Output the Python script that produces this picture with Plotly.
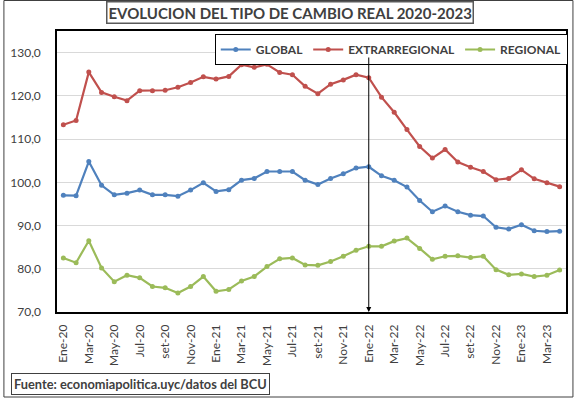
import plotly.graph_objects as go

months = ["Ene-20","Feb-20","Mar-20","Abr-20","May-20","Jun-20","Jul-20","Ago-20","set-20","Oct-20","Nov-20","Dic-20",
          "Ene-21","Feb-21","Mar-21","Abr-21","May-21","Jun-21","Jul-21","Ago-21","set-21","Oct-21","Nov-21","Dic-21",
          "Ene-22","Feb-22","Mar-22","Abr-22","May-22","Jun-22","Jul-22","Ago-22","set-22","Oct-22","Nov-22","Dic-22",
          "Ene-23","Feb-23","Mar-23","Abr-23"]

global_idx = [97.0, 96.9, 104.8, 99.3, 97.1, 97.5, 98.2, 97.1, 97.1, 96.8, 98.2, 99.9,
              97.9, 98.3, 100.5, 100.9, 102.5, 102.5, 102.5, 100.5, 99.5, 100.9, 102.0, 103.3,
              103.6, 101.5, 100.5, 98.9, 95.8, 93.2, 94.5, 93.2, 92.4, 92.2, 89.6, 89.2,
              90.2, 88.8, 88.6, 88.7]

extrarregional = [113.3, 114.3, 125.5, 120.8, 119.8, 118.9, 121.2, 121.2, 121.3, 122.0, 123.1, 124.4,
                  123.9, 124.5, 127.2, 126.6, 127.3, 125.4, 124.9, 122.2, 120.5, 122.7, 123.7, 124.9,
                  124.2, 119.7, 116.2, 112.2, 108.3, 105.6, 107.6, 104.7, 103.5, 102.5, 100.6, 100.9,
                  102.9, 100.8, 99.9, 99.0]

regional = [82.5, 81.4, 86.5, 80.2, 77.0, 78.5, 77.9, 75.9, 75.6, 74.4, 75.9, 78.2,
            74.8, 75.2, 77.2, 78.2, 80.5, 82.3, 82.5, 80.9, 80.8, 81.7, 82.9, 84.3,
            85.2, 85.2, 86.4, 87.1, 84.7, 82.2, 82.9, 83.0, 82.6, 82.9, 79.8, 78.6,
            78.8, 78.2, 78.5, 79.7]

series_names = ["GLOBAL", "EXTRARREGIONAL", "REGIONAL"]
series_colors = ["#4F81BD", "#C0504D", "#9BBB59"]
y_ticks = [70, 80, 90, 100, 110, 120, 130]
y_ticktext = ["70,0", "80,0", "90,0", "100,0", "110,0", "120,0", "130,0"]
title_text = "EVOLUCION DEL TIPO DE CAMBIO REAL 2020-2023"
source_text = "Fuente: economiapolitica.uyc/datos del BCU"
marker_month = "Ene-22"

W, H = 578, 398
L, R, T, B = 55, 10, 31, 86
pw, ph = W - L - R, H - T - B

def px2paper_x(px):
    return (px - L) / pw

def px2paper_y(py):
    return (H - B - py) / ph

fig = go.Figure()
for name, vals, col in zip(series_names, [global_idx, extrarregional, regional], series_colors):
    fig.add_trace(go.Scatter(
        x=months, y=vals, name=name, mode="lines+markers",
        line=dict(color=col, width=2.2),
        marker=dict(color=col, size=5),
    ))

font_main = "Lato"
fig.update_layout(
    width=W, height=H,
    margin=dict(l=L, r=R, t=T, b=B),
    paper_bgcolor="white", plot_bgcolor="white",
    showlegend=True,
    legend=dict(
        orientation="h", x=px2paper_x(214), y=px2paper_y(34),
        xanchor="left", yanchor="top",
        bordercolor="#000000", borderwidth=1, bgcolor="white",
        font=dict(family=font_main, size=12, color="#404040", weight="bold"),
        itemwidth=30, tracegroupgap=0,
    ),
    xaxis=dict(
        type="category", categoryorder="array", categoryarray=months,
        range=[-0.5, len(months) - 0.5],
        tickmode="array", tickvals=months[::2], ticktext=months[::2],
        tickangle=-90, tickfont=dict(family=font_main, size=12, color="#404040"),
        ticklabelstandoff=6,
        showgrid=False, showline=True, linecolor="black", linewidth=1.5, mirror=True,
        ticks="", zeroline=False,
    ),
    yaxis=dict(
        range=[70, 130 + (52.7 - 31) / (260 / 60)],
        tickmode="array", tickvals=y_ticks, ticktext=y_ticktext,
        tickfont=dict(family=font_main, size=12, color="#404040"),
        ticklabelstandoff=12,
        showgrid=True, gridcolor="#D9D9D9", gridwidth=1,
        showline=True, linecolor="black", linewidth=1.5, mirror=True,
        ticks="", zeroline=False,
    ),
)

# arrow pointing at Ene-22
fig.add_annotation(
    x=marker_month, y=70, xref="x", yref="y", text="",
    showarrow=True, arrowhead=2, arrowsize=1, arrowwidth=1, arrowcolor="#000000",
    ax=0, ay=-(312 - 56), standoff=0,
)

# title box
fig.add_annotation(
    x=px2paper_x(289.5), y=px2paper_y(13), xref="paper", yref="paper",
    text="<b>" + title_text + "</b>", showarrow=False,
    font=dict(family=font_main, size=15, color="#404040"),
    bordercolor="#595959", borderwidth=1.5, borderpad=1, bgcolor="white",
    xanchor="center", yanchor="middle",
)

# source box
fig.add_annotation(
    x=px2paper_x(9), y=px2paper_y(384), xref="paper", yref="paper",
    text="<b>" + source_text + "</b>", showarrow=False,
    font=dict(family=font_main, size=12.8, color="#404040"),
    bordercolor="#404040", borderwidth=1, borderpad=2, bgcolor="white",
    xanchor="left", yanchor="middle",
)

# outer frame
fig.add_shape(
    type="rect", xref="paper", yref="paper",
    x0=px2paper_x(1.5), x1=px2paper_x(575), y0=px2paper_y(0.5), y1=px2paper_y(397),
    line=dict(color="#404040", width=1), layer="below",
)

fig.write_html("out.html", config={"displayModeBar": False},
               post_script="document.body.style.margin='0';")
